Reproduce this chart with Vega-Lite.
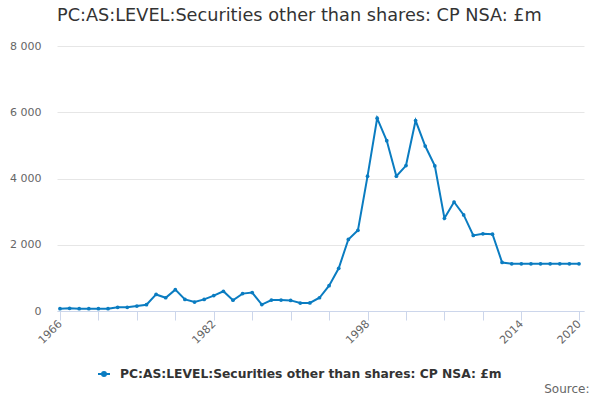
{
  "$schema": "https://vega.github.io/schema/vega-lite/v6.json",
  "width": 527,
  "height": 265,
  "autosize": "none",
  "padding": {"left": 57, "top": 46, "right": 16, "bottom": 89},
  "background": "white",
  "title": {
    "text": "PC:AS:LEVEL:Securities other than shares: CP NSA: £m",
    "anchor": "start",
    "frame": "group",
    "font": "DejaVu Sans",
    "fontSize": 17.7,
    "fontWeight": "normal",
    "color": "#333333",
    "baseline": "alphabetic",
    "offset": 1
  },
  "data": {
    "values": [
      {"year": 1966, "value": 70},
      {"year": 1967, "value": 80},
      {"year": 1968, "value": 70},
      {"year": 1969, "value": 70},
      {"year": 1970, "value": 70},
      {"year": 1971, "value": 70},
      {"year": 1972, "value": 110},
      {"year": 1973, "value": 110},
      {"year": 1974, "value": 150},
      {"year": 1975, "value": 190},
      {"year": 1976, "value": 500},
      {"year": 1977, "value": 400},
      {"year": 1978, "value": 645},
      {"year": 1979, "value": 350},
      {"year": 1980, "value": 270},
      {"year": 1981, "value": 350},
      {"year": 1982, "value": 465},
      {"year": 1983, "value": 595},
      {"year": 1984, "value": 325},
      {"year": 1985, "value": 525},
      {"year": 1986, "value": 555},
      {"year": 1987, "value": 195},
      {"year": 1988, "value": 330},
      {"year": 1989, "value": 330},
      {"year": 1990, "value": 320},
      {"year": 1991, "value": 240},
      {"year": 1992, "value": 245},
      {"year": 1993, "value": 400},
      {"year": 1994, "value": 765},
      {"year": 1995, "value": 1290},
      {"year": 1996, "value": 2160},
      {"year": 1997, "value": 2435},
      {"year": 1998, "value": 4070},
      {"year": 1999, "value": 5820},
      {"year": 2000, "value": 5140},
      {"year": 2001, "value": 4070},
      {"year": 2002, "value": 4390},
      {"year": 2003, "value": 5750},
      {"year": 2004, "value": 4980},
      {"year": 2005, "value": 4380},
      {"year": 2006, "value": 2800},
      {"year": 2007, "value": 3290},
      {"year": 2008, "value": 2900},
      {"year": 2009, "value": 2280},
      {"year": 2010, "value": 2330},
      {"year": 2011, "value": 2320},
      {"year": 2012, "value": 1465},
      {"year": 2013, "value": 1425},
      {"year": 2014, "value": 1425},
      {"year": 2015, "value": 1425},
      {"year": 2016, "value": 1425},
      {"year": 2017, "value": 1425},
      {"year": 2018, "value": 1425},
      {"year": 2019, "value": 1425},
      {"year": 2020, "value": 1425}
    ]
  },
  "mark": {
    "type": "line",
    "strokeWidth": 2,
    "point": {"filled": true, "size": 14}
  },
  "encoding": {
    "x": {
      "field": "year",
      "type": "quantitative",
      "scale": {"domain": [1965.69, 2020.52], "nice": false, "zero": false},
      "axis": {
        "values": [1966, 1970, 1974, 1978, 1982, 1986, 1990, 1994, 1998, 2002, 2006, 2010, 2014, 2020],
        "format": "d",
        "labelExpr": "indexof([1966, 1982, 1998, 2014, 2020], datum.value) >= 0 ? datum.label : ''",
        "labelAngle": -45,
        "labelAlign": "right",
        "labelBaseline": "middle",
        "labelPadding": 2,
        "labelFont": "DejaVu Sans",
        "labelFontSize": 11,
        "labelColor": "#666666",
        "labelOverlap": false,
        "labelFlush": false,
        "grid": false,
        "domainColor": "#ccd6eb",
        "tickColor": "#ccd6eb",
        "tickSize": 9,
        "title": "Source:",
        "titleFont": "DejaVu Sans",
        "titleFontSize": 12,
        "titleFontWeight": "normal",
        "titleColor": "#666666",
        "titleAlign": "right",
        "titleBaseline": "alphabetic",
        "titleX": 532,
        "titleY": 81
      }
    },
    "y": {
      "field": "value",
      "type": "quantitative",
      "scale": {"domain": [0, 8000], "nice": false},
      "axis": {
        "values": [0, 2000, 4000, 6000, 8000],
        "labelExpr": "replace(format(datum.value, ','), ',', ' ')",
        "labelFont": "DejaVu Sans",
        "labelFontSize": 11,
        "labelColor": "#666666",
        "labelPadding": 16,
        "domain": false,
        "ticks": false,
        "gridColor": "#e6e6e6",
        "title": null
      }
    },
    "color": {
      "datum": "PC:AS:LEVEL:Securities other than shares: CP NSA: £m",
      "scale": {"range": ["#0a7cc1"]},
      "legend": {
        "title": null,
        "orient": "none",
        "legendX": 40,
        "legendY": 321,
        "symbolType": "M-1,0L1,0M0.33,0A0.33,0.33,0,1,1,-0.33,0A0.33,0.33,0,1,1,0.33,0Z",
        "symbolSize": 144,
        "symbolStrokeWidth": 2,
        "labelFont": "DejaVu Sans",
        "labelFontSize": 12.3,
        "labelFontWeight": "bold",
        "labelColor": "#333333",
        "labelOffset": 9,
        "labelLimit": 600,
        "encode": {
          "symbols": {
            "update": {
              "fill": {"value": "#0a7cc1"},
              "stroke": {"value": "#0a7cc1"}
            }
          }
        }
      }
    }
  },
  "config": {
    "view": {"stroke": null}
  }
}
